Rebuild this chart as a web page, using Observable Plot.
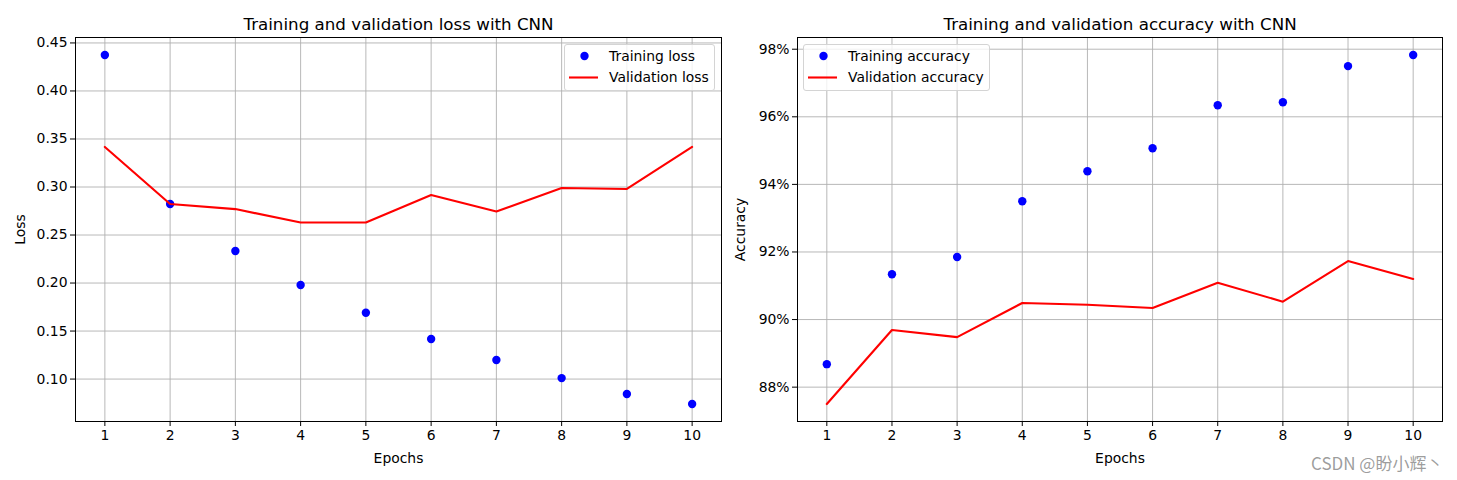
<!DOCTYPE html>
<html><head><meta charset="utf-8">
<script src="https://cdn.jsdelivr.net/npm/d3@7"></script>
<script src="https://cdn.jsdelivr.net/npm/@observablehq/plot@0.6"></script>
<style>
body{margin:0;background:#fff;font-family:"DejaVu Sans",sans-serif;}
#wrap{position:relative;width:1457px;height:480px;overflow:hidden;background:#fff}
.panel{position:absolute;top:0}
.legend{position:absolute;background:rgba(255,255,255,0.8);border:1px solid #d4d4d4;border-radius:3px;box-sizing:border-box;font-family:"DejaVu Sans",sans-serif;font-size:13.9px;color:#000}
.legend .row{position:absolute;left:0;height:20px;line-height:20px;white-space:nowrap}
.legend svg{position:absolute;left:0;top:0}
.legend span{position:absolute;left:44px;top:0}
#wm{position:absolute;left:1311px;top:450px;font-family:"Noto Sans CJK SC","Noto Sans",sans-serif;font-size:17px;color:rgba(140,140,140,0.85);white-space:nowrap}
</style></head>
<body><div id="wrap"></div>
<script>
const epochs = [1,2,3,4,5,6,7,8,9,10];
const trainLoss = [0.4375,0.2823,0.2333,0.1980,0.1690,0.1417,0.1198,0.1010,0.0844,0.0740];
const valLoss = [0.3417,0.2823,0.2770,0.2630,0.2630,0.2917,0.2745,0.2990,0.2980,0.3417];
const trainAcc = [0.8868,0.9134,0.9185,0.9350,0.9439,0.9507,0.9634,0.9643,0.9750,0.9783];
const valAcc = [0.8750,0.8969,0.8948,0.9049,0.9044,0.9034,0.9109,0.9053,0.9173,0.9120];
const epochTicks = [1,2,3,4,5,6,7,8,9,10];
const lossTicks = [0.10,0.15,0.20,0.25,0.30,0.35,0.40,0.45];
const accTicks = [0.88,0.90,0.92,0.94,0.96,0.98];
const titles = ["Training and validation loss with CNN","Training and validation accuracy with CNN"];
const yLabels = ["Loss","Accuracy"];
const legendLabels = [["Training loss","Validation loss"],["Training accuracy","Validation accuracy"]];
const watermark = "CSDN @盼小辉丶";

const pad = ext => { const r = ext[1]-ext[0]; return [ext[0]-0.05*r, ext[1]+0.05*r]; };

function panel(o){
  const data = epochs.map((e,i)=>({epoch:e, train:o.train[i], val:o.val[i]}));
  const gridStyle = {stroke:"#b0b0b0", strokeOpacity:1, strokeWidth:0.9};
  return Plot.plot({
    width:o.width, height:480, marginLeft:o.ml, marginRight:o.mr, marginTop:37, marginBottom:59,
    style:{fontFamily:"DejaVu Sans", fontSize:"13.9px", color:"black", background:"white", overflow:"visible"},
    x:{domain:pad(d3.extent(epochs)), ticks:epochTicks, tickFormat:d=>String(d), label:"Epochs", labelAnchor:"center", labelOffset:41, labelArrow:"none", tickSize:5, tickPadding:4},
    y:{domain:pad(d3.extent([...o.train,...o.val])), ticks:o.yTicks, tickFormat:o.yFormat, label:o.ylabel, labelAnchor:"center", labelOffset:o.lo, labelArrow:"none", tickSize:5, tickPadding:3},
    marks:[
      Plot.gridX(epochTicks, gridStyle),
      Plot.gridY(o.yTicks, gridStyle),
      Plot.dot(data, {x:"epoch", y:"train", r:4.2, fill:"blue", stroke:"none"}),
      Plot.line(data, {x:"epoch", y:"val", stroke:"red", strokeWidth:2.1}),
      Plot.frame({stroke:"black", strokeWidth:1}),
      Plot.text([o.title], {text:d=>d, frameAnchor:"top", lineAnchor:"bottom", dy:-8, fontSize:16.7})
    ]
  });
}

function legend(labels, left, width){
  const div = document.createElement("div");
  div.className = "legend";
  Object.assign(div.style, {left:left+"px", top:"44px", width:width+"px", height:"47px"});
  const icons = [
    '<svg width="40" height="20"><circle cx="19.5" cy="10" r="4.2" fill="blue"/></svg>',
    '<svg width="40" height="20"><line x1="4" x2="33" y1="10.5" y2="10.5" stroke="red" stroke-width="2.1"/></svg>'
  ];
  labels.forEach((lab,i)=>{
    const row = document.createElement("div");
    row.className = "row";
    row.style.top = (i===0 ? 1 : 22)+"px";
    row.innerHTML = icons[i] + "<span></span>";
    row.querySelector("span").textContent = lab;
    div.appendChild(row);
  });
  return div;
}

const wrap = document.getElementById("wrap");
const p1 = panel({title:titles[0], ylabel:yLabels[0], train:trainLoss, val:valLoss, yTicks:lossTicks, yFormat:d3.format(".2f"), width:728, ml:75, mr:7, lo:60});
p1.classList.add("panel"); p1.style.left = "0px";
const p2 = panel({title:titles[1], ylabel:yLabels[1], train:trainAcc, val:valAcc, yTicks:accTicks, yFormat:d=>Math.round(d*100)+"%", width:729, ml:69, mr:15, lo:62});
p2.classList.add("panel"); p2.style.left = "728px";
wrap.appendChild(p1); wrap.appendChild(p2);
wrap.appendChild(legend(legendLabels[0], 564, 151));
wrap.appendChild(legend(legendLabels[1], 803, 187));
const wm = document.createElement("div"); wm.id = "wm"; wm.textContent = watermark; wrap.appendChild(wm);
</script></body></html>
